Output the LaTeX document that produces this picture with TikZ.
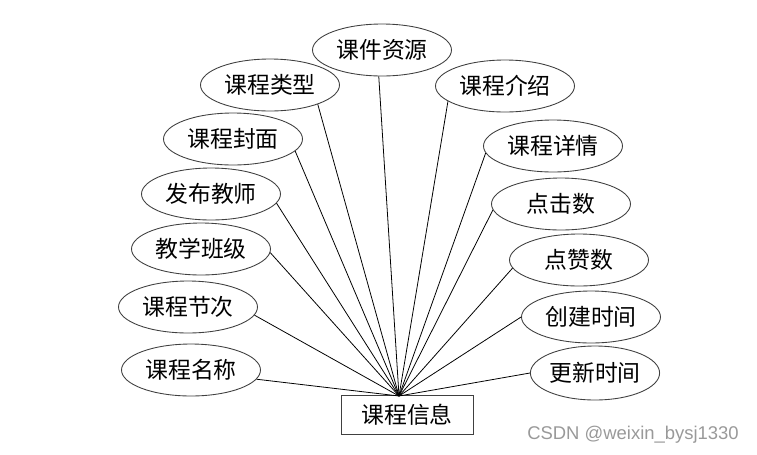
\documentclass[tikz,border=0pt]{standalone}
\usepackage{fontspec}
\newfontfamily\cjk{Noto Sans CJK SC}
\setsansfont{Liberation Sans}
\usetikzlibrary{shapes.geometric}

\tikzset{
    attr/.style={ellipse, draw=black!75, line width=0.5pt, inner sep=0pt,
        minimum width=2.78cm, minimum height=1.04cm,
        font=\cjk\fontsize{13pt}{15pt}\selectfont},
    entity/.style={rectangle, draw=black!75, line width=0.5pt, inner sep=0pt,
        minimum width=2.64cm, minimum height=0.78cm,
        font=\cjk\fontsize{13pt}{15pt}\selectfont},
    link/.style={line width=0.45pt}
}

\begin{document}
\begin{tikzpicture}[x=0.02cm, y=-0.02cm]
        \useasboundingbox (0,0) rectangle (757,454);

        % Entity
        \node[entity] (info) at (407,415) {课程信息};
        \coordinate (hub) at (399,396);

        % Attributes (left)
        \node[attr] (resource) at (382,50) {课件资源};
        \node[attr] (type) at (270,85) {课程类型};
        \node[attr] (cover) at (233,139) {课程封面};
        \node[attr] (teacher) at (211,194) {发布教师};
        \node[attr] (class) at (201,249) {教学班级};
        \node[attr] (section) at (188,307) {课程节次};
        \node[attr] (name) at (191,370) {课程名称};

        % Attributes (right)
        \node[attr] (intro) at (505,86) {课程介绍};
        \node[attr] (detail) at (553,146) {课程详情};
        \node[attr] (clicks) at (561,204) {点击数};
        \node[attr] (likes) at (579,260) {点赞数};
        \node[attr] (created) at (591,317) {创建时间};
        \node[attr, minimum width=2.42cm, minimum height=1.08cm] (updated) at (595,373) {更新时间};

        % Links
        \draw[link] (hub) -- (resource.-97);
        \draw[link] (hub) -- (type.-22);
        \draw[link] (hub) -- (cover.-11);
        \draw[link] (hub) -- (teacher.-8);
        \draw[link] (hub) -- (class.-3);
        \draw[link] (hub) -- (section.-7);
        \draw[link] (hub) -- (name.-8);
        \draw[link] (hub) -- (intro.195);
        \draw[link] (hub) -- (detail.186);
        \draw[link] (hub) -- (clicks.185);
        \draw[link] (hub) -- (likes.187);
        \draw[link] (hub) -- (created.180);
        \draw[link] (hub) -- (updated.180);

        % Watermark
        \node[text=black!40, font=\sffamily\fontsize{10.5pt}{12pt}\selectfont] (mark) at (633,435) {CSDN @weixin\_bysj1330};
    \end{tikzpicture}
\end{document}
